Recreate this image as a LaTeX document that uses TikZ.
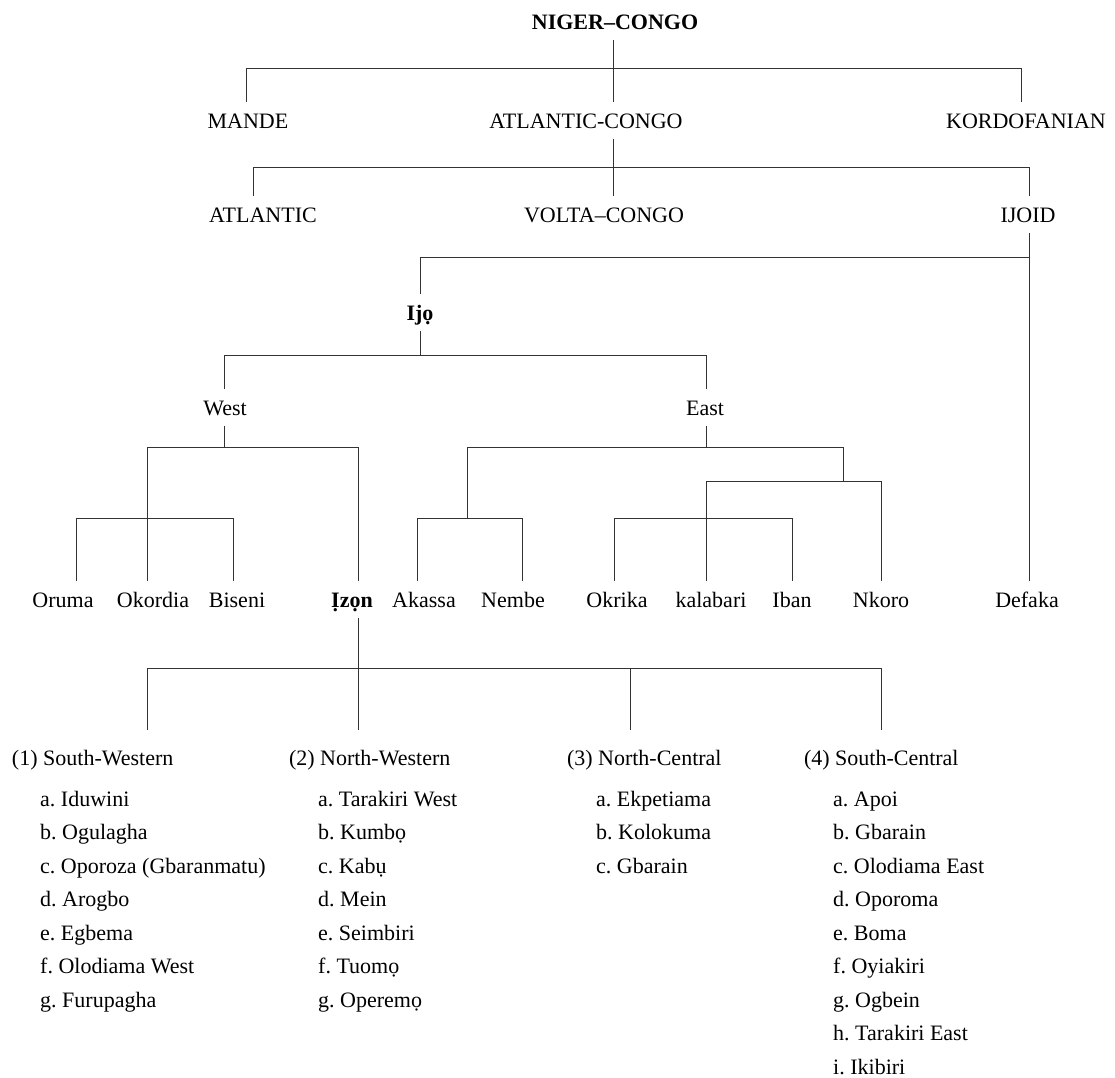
\documentclass[tikz,border=0pt]{standalone}
\usepackage{fontspec}
\setmainfont{Liberation Serif}
\newcommand\tfs{\fontsize{22}{26}\selectfont\frenchspacing}
\begin{document}
\begin{tikzpicture}[x=1pt,y=-1pt,
  tn/.style={font=\tfs, inner sep=0pt, outer sep=0pt, text height=26pt, text depth=11pt, anchor=base},
  tb/.style={tn, font=\tfs\bfseries},
  hd/.style={font=\tfs, inner sep=0pt, outer sep=0pt, text height=35pt, text depth=8pt, anchor=base west},
  it/.style={font=\tfs, inner sep=0pt, anchor=base west},
  ln/.style={draw=black!80, line width=0.9pt}]
\useasboundingbox (0,0) rectangle (1115,1077);
% tree nodes
\node[tb] (nc) at (615,29) {NIGER–CONGO};
\node[tn] (mande) at (248,128) {MANDE};
\node[tn] (ac) at (586,128) {ATLANTIC-CONGO};
\node[tn] (kord) at (1026,128) {KORDOFANIAN};
\node[tn] (atl) at (263,222) {ATLANTIC};
\node[tn] (vc) at (604,222) {VOLTA–CONGO};
\node[tn] (ijoid) at (1028,222) {IJOID};
\node[tb] (ijo) at (420,320) {Ijọ};
\node[tn] (west) at (225,415) {West};
\node[tn] (east) at (705,415) {East};
\node[tn] (oruma) at (63,607) {Oruma};
\node[tn] (okordia) at (153,607) {Okordia};
\node[tn] (biseni) at (237,607) {Biseni};
\node[tb] (izon) at (352,607) {Ịzọn};
\node[tn] (akassa) at (424,607) {Akassa};
\node[tn] (nembe) at (513,607) {Nembe};
\node[tn] (okrika) at (617,607) {Okrika};
\node[tn] (kalabari) at (711,607) {kalabari};
\node[tn] (iban) at (792,607) {Iban};
\node[tn] (nkoro) at (881,607) {Nkoro};
\node[tn] (defaka) at (1027,607) {Defaka};
% headings
\node[hd] (h1) at (12,765) {(1) South-Western};
\node[hd] (h2) at (289,765) {(2) North-Western};
\node[hd] (h3) at (567,765) {(3) North-Central};
\node[hd] (h4) at (804,765) {(4) South-Central};
% lists
\foreach \t [count=\i from 0] in {a. Iduwini, b. Ogulagha, c. Oporoza (Gbaranmatu), d. Arogbo, e. Egbema, f. Olodiama West, g. Furupagha}
  \node[it] (sw-\i) at (40,806+33.5*\i) {\t};
\foreach \t [count=\i from 0] in {a. Tarakiri West, b. Kumbọ, c. Kabụ, d. Mein, e. Seimbiri, f. Tuomọ, g. Operemọ}
  \node[it] (nw-\i) at (318,806+33.5*\i) {\t};
\foreach \t [count=\i from 0] in {a. Ekpetiama, b. Kolokuma, c. Gbarain}
  \node[it] (nc-\i) at (596,806+33.5*\i) {\t};
\foreach \t [count=\i from 0] in {a. Apoi, b. Gbarain, c. Olodiama East, d. Oporoma, e. Boma, f. Oyiakiri, g. Ogbein, h. Tarakiri East, i. Ikibiri}
  \node[it] (sc-\i) at (833,806+33.5*\i) {\t};
% coordinates
\coordinate (j1) at (613,68); \coordinate (m1) at (246,68); \coordinate (k1) at (1021,68);
\coordinate (j2) at (613,167); \coordinate (a2) at (253,167); \coordinate (i2) at (1029,167);
\coordinate (i3) at (1029,257); \coordinate (o3) at (420,257);
\coordinate (j4) at (420,355); \coordinate (w4) at (224,355); \coordinate (e4) at (706,355);
\coordinate (jw) at (224,447); \coordinate (wl) at (147.5,447); \coordinate (wr) at (358,447);
\coordinate (s1) at (76,518); \coordinate (s2) at (233,518);
\coordinate (je) at (706,447); \coordinate (el) at (467,447); \coordinate (er) at (843,447);
\coordinate (an) at (467,518); \coordinate (a5) at (417,518); \coordinate (n5) at (522,518);
\coordinate (kn) at (843,481); \coordinate (k6) at (706,481); \coordinate (n6) at (881,481);
\coordinate (o7) at (614,518); \coordinate (b7) at (792,518);
\coordinate (z8) at (358,668); \coordinate (c1) at (147,668); \coordinate (c3) at (630,668); \coordinate (c4) at (881,668);
% connectors
\draw[ln] (j1 |- nc.south) -- (j1 |- ac.north);
\draw[ln] (m1 |- mande.north) -- (m1) -- (k1) -- (k1 |- kord.north);
\draw[ln] (j2 |- ac.south) -- (j2 |- vc.north);
\draw[ln] (a2 |- atl.north) -- (a2) -- (i2) -- (i2 |- ijoid.north);
\draw[ln] (i3 |- ijoid.south) -- (i3 |- defaka.north);
\draw[ln] (i3) -- (o3) -- (o3 |- ijo.north);
\draw[ln] (j4 |- ijo.south) -- (j4);
\draw[ln] (w4 |- west.north) -- (w4) -- (e4) -- (e4 |- east.north);
\draw[ln] (jw |- west.south) -- (jw);
\draw[ln] (wl |- okordia.north) -- (wl) -- (wr) -- (wr |- izon.north);
\draw[ln] (s1 |- oruma.north) -- (s1) -- (s2) -- (s2 |- biseni.north);
\draw[ln] (je |- east.south) -- (je);
\draw[ln] (an) -- (el) -- (er) -- (kn);
\draw[ln] (a5 |- akassa.north) -- (a5) -- (n5) -- (n5 |- nembe.north);
\draw[ln] (k6 |- kalabari.north) -- (k6) -- (n6) -- (n6 |- nkoro.north);
\draw[ln] (o7 |- okrika.north) -- (o7) -- (b7) -- (b7 |- iban.north);
\draw[ln] (z8 |- izon.south) -- (z8 |- h2.north);
\draw[ln] (c1 |- h1.north) -- (c1) -- (c4) -- (c4 |- h4.north);
\draw[ln] (c3) -- (c3 |- h3.north);
\end{tikzpicture}
\end{document}
